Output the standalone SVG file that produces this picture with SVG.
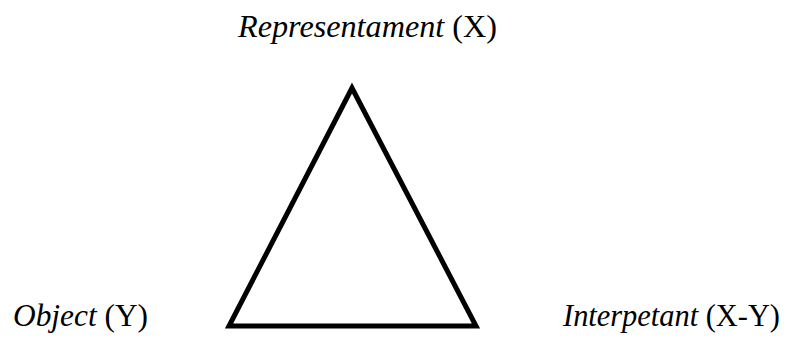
<svg xmlns="http://www.w3.org/2000/svg" width="789" height="338" viewBox="0 0 789 338">
<style>
.lbl{font-family:"Liberation Serif","Times New Roman",serif;font-size:32px;fill:#000}
.it{font-style:italic}
.tri{fill:none;stroke:#000;stroke-width:5;stroke-linejoin:miter}
</style>
<rect width="789" height="338" fill="#fff"/>
<g id="connectors">
<polygon class="tri" points="352,88 229,326 476,326"/>
</g>
<g id="representament"><text class="lbl" x="238" y="37" textLength="259" lengthAdjust="spacingAndGlyphs"><tspan class="it">Representament</tspan> (X)</text></g>
<g id="object"><text class="lbl" x="13" y="326" textLength="135" lengthAdjust="spacingAndGlyphs"><tspan class="it">Object</tspan> (Y)</text></g>
<g id="interpretant"><text class="lbl" x="563" y="326" textLength="217" lengthAdjust="spacingAndGlyphs"><tspan class="it">Interpetant</tspan> (X-Y)</text></g>
</svg>
